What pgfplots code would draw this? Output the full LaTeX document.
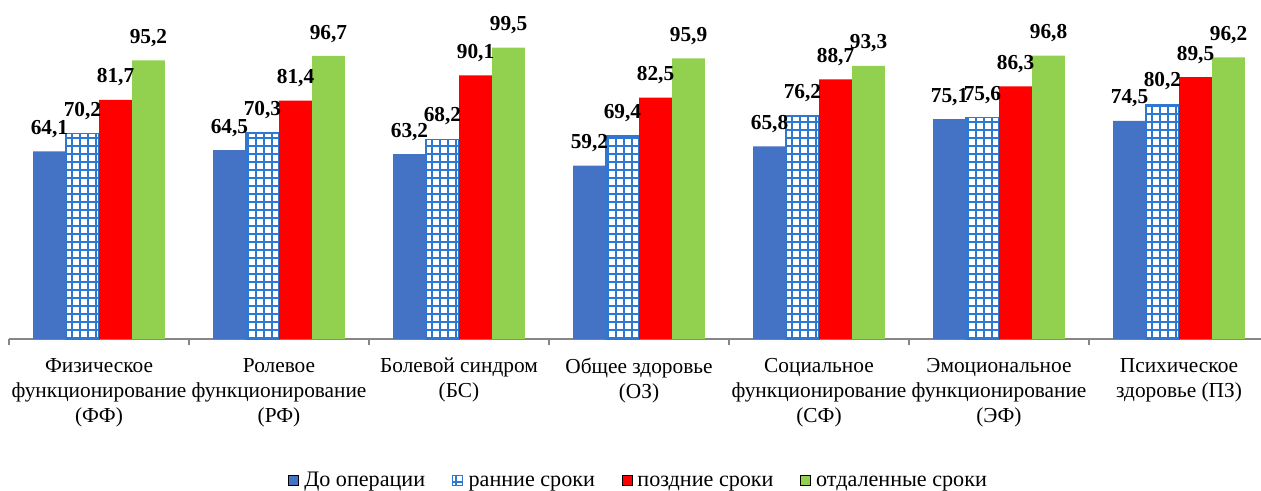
\documentclass[border=0pt]{standalone}
\usepackage{fontspec}
\setmainfont{Liberation Serif}
\usepackage{pgfplots}
\usepackage{pgfplotstable}
\pgfplotsset{compat=1.18}
\usetikzlibrary{patterns.meta}

\definecolor{preop}{HTML}{4472C4}
\definecolor{early}{HTML}{2E78D2}
\definecolor{late}{HTML}{FF0000}
\definecolor{remote}{HTML}{92D050}
\definecolor{axisgray}{HTML}{868686}

% Quality-of-life scores by scale and follow-up period
\pgfplotstableread{
x pre early late remote
0 64.1 70.2 81.7 95.2
1 64.5 70.3 81.4 96.7
2 63.2 68.2 90.1 99.5
3 59.2 69.4 82.5 95.9
4 65.8 76.2 88.7 93.3
5 75.1 75.6 86.3 96.8
6 74.5 80.2 89.5 96.2
}\scores

\begin{document}
\begin{tikzpicture}
\begin{axis}[
  scale only axis,
  width=945pt, height=241.5pt,
  xmin=-0.5, xmax=6.5, ymin=0, ymax=110,
  ybar, bar width=0.1833,
  axis x line*=bottom, axis y line=none,
  x axis line style={-, draw=axisgray, line width=0.8pt},
  xtick={0,...,6},
  major tick length=0pt,
  xticklabels={
    Физическое\\функционирование\\(ФФ),
    Ролевое\\функционирование\\(РФ),
    Болевой синдром\\(БС),
    Общее здоровье\\(ОЗ),
    Социальное\\функционирование\\(СФ),
    Эмоциональное\\функционирование\\(ЭФ),
    Психическое\\здоровье (ПЗ)},
  xticklabel style={font=\fontsize{16}{18.75}\selectfont, align=center, yshift=-11pt},
  extra x ticks={-0.5,0.5,...,6.5},
  extra x tick labels={},
  extra x tick style={major tick length=4.5pt, tick align=outside,
    tick style={draw=axisgray, line width=0.8pt}},
  ytick=\empty,
  nodes near coords,
  nodes near coords style={font=\fontsize{16}{19}\selectfont\bfseries,
    text depth=0pt, inner sep=0pt, yshift=12.5pt},
  /pgf/number format/.cd, use comma, fixed, fixed zerofill, precision=1,
    assume math mode=true,
  /pgfplots/.cd,
  legend columns=4,
  legend style={draw=none, at={(0.5,-0.441)}, anchor=center,
    font=\fontsize{16.6}{19}\selectfont,
    nodes={text height=12pt, text depth=4pt},
    /tikz/every odd column/.append style={column sep=2pt},
    /tikz/every even column/.append style={column sep=18pt}},
  legend image code/.code={\draw[#1] (0pt,-3.4pt) rectangle (7.5pt,4.1pt);},
]
\addplot[fill=preop, draw=none, bar shift=-0.275] table[x=x, y=pre] {\scores};
\addplot[draw=early, line width=1.1pt,
  pattern={Hatch[angle=0, distance=6pt, line width=1.2pt]}, pattern color=early,
  bar shift=-0.0917] table[x=x, y=early] {\scores};
\addplot[fill=late, draw=none, bar shift=0.0917] table[x=x, y=late] {\scores};
\addplot[fill=remote, draw=none, bar shift=0.275] table[x=x, y=remote] {\scores};
\legend{До операции, ранние сроки, поздние сроки, отдаленные сроки}
\end{axis}
\pgfresetboundingbox
\path[use as bounding box] (-6.75pt,-113.25pt) rectangle (939pt,254.25pt);
\end{tikzpicture}
\end{document}
